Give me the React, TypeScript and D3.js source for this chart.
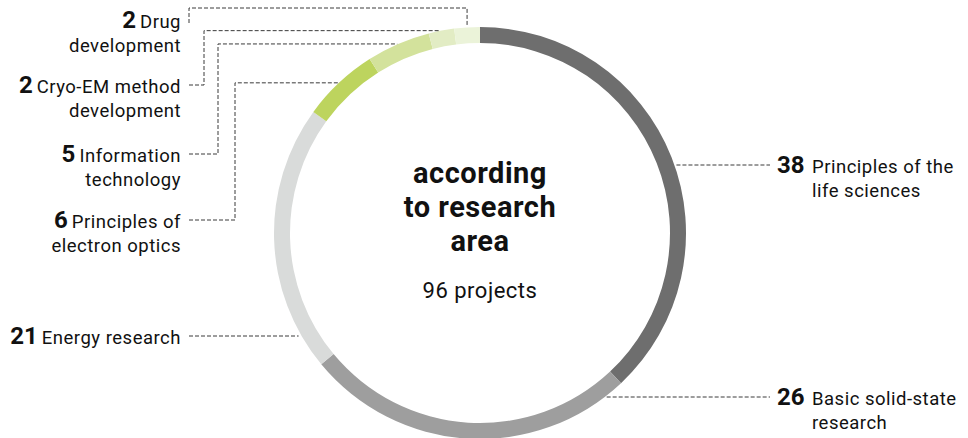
import React from "react";
import * as d3 from "d3";

const categories = [
  "Principles of the life sciences",
  "Basic solid-state research",
  "Energy research",
  "Principles of electron optics",
  "Information technology",
  "Cryo-EM method development",
  "Drug development",
];
const values = [38, 26, 21, 6, 5, 2, 2];
const colors = ["#6e6e6e", "#9e9e9e", "#d9dbda", "#bdd45e", "#d3e29c", "#e2ecc4", "#ebf3d9"];
const labelLine1 = ["Principles of the", "Basic solid-state", "Energy research", "Principles of", "Information", "Cryo-EM method", "Drug"];
const labelLine2 = ["life sciences", "research", "", "electron optics", "technology", "development", "development"];
const titleLines = ["according", "to research", "area"];
const subtitle = "96 projects";

// layout of label blocks (baseline of first line) and leader elbows
const W = 968, H = 438;
const cx = 480, cy = 233, rOuter = 206, rInner = 190;
const labelBaseline = [173, 405, 344, 228, 162, 93, 28];
const side = ["right", "right", "left", "left", "left", "left", "left"];
const elbowX = [null, null, null, 235, 218, 204, 189];

export default function App() {
  const pie = d3.pie<number>().sort(null).value((d) => d)(values);
  const arc = d3.arc<d3.PieArcDatum<number>>().innerRadius(rInner).outerRadius(rOuter);
  const font = "Roboto, 'Noto Sans', sans-serif";
  const leftX = 181;
  const rightNumX = 777;
  const rightTextX = 812;
  const fs = 18.5;
  const ls = 0.5;

  const leaders = pie.map((p, i) => {
    const yLine = labelBaseline[i] - 8;
    if (side[i] === "right") {
      const dy = yLine - cy;
      const x = cx + Math.sqrt(rOuter * rOuter - dy * dy) + 2;
      return `M${x},${yLine}L${rightNumX - 7},${yLine}`;
    }
    const mid = (p.startAngle + p.endAngle) / 2;
    const px = cx + rOuter * Math.sin(mid);
    const py = cy - rOuter * Math.cos(mid);
    if (elbowX[i] === null) {
      const dy = yLine - cy;
      const x = cx - Math.sqrt(rOuter * rOuter - dy * dy) - 3;
      return `M${leftX + 8},${yLine}L${x},${yLine}`;
    }
    if (i === values.length - 1) {
      const topY = 8;
      return `M${elbowX[i]},${yLine + 3}L${elbowX[i]},${topY}L${px},${topY}L${px},${py - 1}`;
    }
    return `M${leftX + 8},${yLine}L${elbowX[i]},${yLine}L${elbowX[i]},${py}L${px - 1},${py}`;
  });

  return (
    <svg width={W} height={H} style={{ display: "block", position: "absolute", left: 0, top: 0 }} fontFamily={font}>
      <rect width={W} height={H} fill="#fff" />
      <g transform={`translate(${cx},${cy})`}>
        {pie.map((p, i) => (
          <path key={i} d={arc(p) as string} fill={colors[i]} />
        ))}
      </g>
      {leaders.map((d, i) => (
        <path key={i} d={d} fill="none" stroke="#3a3a3a" strokeWidth={1} strokeDasharray="4,2" />
      ))}
      {categories.map((c, i) => {
        const b = labelBaseline[i];
        if (side[i] === "right") {
          return (
            <g key={c} fill="#111">
              <text x={rightNumX} y={b} fontSize={24} fontWeight={700}>{values[i]}</text>
              <text x={rightTextX} y={b} fontSize={fs} letterSpacing={ls}>{labelLine1[i]}</text>
              {labelLine2[i] && <text x={rightTextX} y={b + 24} fontSize={fs} letterSpacing={ls}>{labelLine2[i]}</text>}
            </g>
          );
        }
        return (
          <g key={c} fill="#111">
            <text x={leftX} y={b} textAnchor="end">
              <tspan fontSize={24} fontWeight={700}>{values[i]}</tspan>
              <tspan fontSize={fs} letterSpacing={ls} dx={4}>{labelLine1[i]}</tspan>
            </text>
            {labelLine2[i] && (
              <text x={leftX} y={b + 24} textAnchor="end" fontSize={fs} letterSpacing={ls}>{labelLine2[i]}</text>
            )}
          </g>
        );
      })}
      <g textAnchor="middle" fill="#111">
        {titleLines.map((t, i) => (
          <text key={t} x={cx} y={183 + i * 34} fontSize={29} fontWeight={700} letterSpacing={0.5}>{t}</text>
        ))}
        <text x={cx} y={298} fontSize={22} letterSpacing={0.5}>{subtitle}</text>
      </g>
    </svg>
  );
}
